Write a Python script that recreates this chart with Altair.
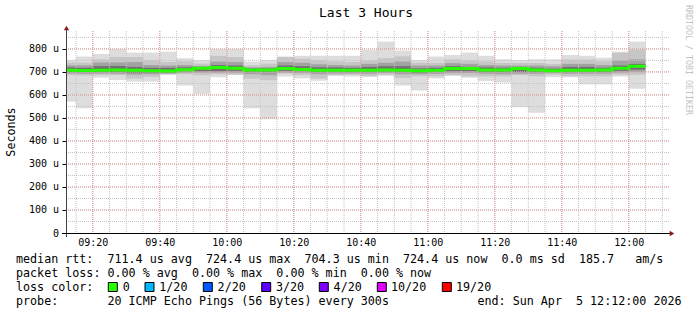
import altair as alt
import pandas as pd

# ---------------- data ----------------
end_times = ["09:15", "09:20", "09:25", "09:30", "09:35", "09:40", "09:45", "09:50", "09:55",
             "10:00", "10:05", "10:10", "10:15", "10:20", "10:25", "10:30", "10:35", "10:40",
             "10:45", "10:50", "10:55", "11:00", "11:05", "11:10", "11:15", "11:20", "11:25",
             "11:30", "11:35", "11:40", "11:45", "11:50", "11:55", "12:00", "12:05"]
median = [707, 706, 707, 709, 707, 705, 704.3, 710, 716, 719, 716, 709, 709, 715, 711, 707, 707, 707,
          707, 709, 707, 705, 707, 715, 715, 709, 709, 715, 709, 705, 707, 707, 709, 716, 724.4]
ping_max = [752, 767, 778, 799, 784, 784, 788, 760, 752, 799, 799, 745, 752, 767, 770, 770, 770, 770,
            796, 832, 793, 752, 767, 774, 784, 770, 755, 752, 755, 755, 774, 770, 762, 788, 832]
ping_h2 = [741, 741, 755, 765, 765, 751, 743, 746, 736, 770, 765, 729, 736, 765, 758, 751, 746, 743,
           750, 760, 768, 740, 740, 755, 749, 746, 739, 739, 739, 735, 754, 754, 746, 783, 797]
ping_h3 = [729, 729, 741, 741, 743, 730, 728, 730, 725, 745, 743, 720, 722, 743, 740, 733, 730, 728,
           735, 740, 745, 728, 728, 738, 735, 730, 728, 728, 728, 725, 735, 735, 730, 750, 755]
ping_h4 = [720, 718, 725, 726, 722, 718, 718, 720, 722, 730, 728, 715, 715, 728, 725, 720, 720, 718,
           722, 725, 725, 715, 718, 725, 722, 720, 718, 720, 718, 714, 722, 722, 718, 728, 735]
ping_l4 = [700, 700, 700, 700, 697, 697, 697, 703, 703, 703, 705, 700, 700, 705, 703, 700, 700, 700,
           700, 702, 700, 697, 700, 703, 703, 700, 700, 700, 700, 700, 700, 700, 700, 705, 710]
ping_l3 = [693, 692, 693, 692, 688, 690, 693, 697, 697, 697, 697, 690, 686, 697, 695, 690, 693, 693,
           692, 695, 690, 690, 692, 695, 695, 692, 690, 692, 692, 695, 692, 692, 692, 697, 700]
ping_l2 = [686, 684, 686, 686, 671, 678, 690, 690, 686, 690, 688, 671, 664, 693, 686, 671, 686, 688,
           681, 688, 674, 681, 681, 686, 681, 681, 681, 686, 681, 688, 681, 681, 681, 688, 688]
ping_min = [571, 542, 675, 665, 658, 658, 687, 641, 604, 677, 687, 542, 494, 680, 672, 662, 683, 680,
            680, 683, 641, 619, 672, 683, 675, 661, 654, 547, 523, 677, 677, 646, 646, 680, 627]

x_labels = ["09:20", "09:40", "10:00", "10:20", "10:40", "11:00", "11:20", "11:40", "12:00"]
y_tick_values = [0, 100, 200, 300, 400, 500, 600, 700, 800]

title_text = "Last 3 Hours"
y_title = "Seconds"
watermark = "RRDTOOL / TOBI OETIKER"
legend_line1 = "median rtt:  711.4 us avg  724.4 us max  704.3 us min  724.4 us now  0.0 ms sd  185.7   am/s"
legend_line2 = "packet loss: 0.00 % avg  0.00 % max  0.00 % min  0.00 % now"
legend_line3 = "loss color:"
loss_labels = ["0", "1/20", "2/20", "3/20", "4/20", "10/20", "19/20"]
loss_colors = ["#26ff00", "#00b8ff", "#0059ff", "#5e00ff", "#7e00ff", "#dd00ff", "#ff0000"]
probe_text = "probe:       20 ICMP Echo Pings (56 Bytes) every 300s"
end_text = "end: Sun Apr  5 12:12:00 2026"
x_start, x_end = "09:12", "12:12"

# ---------------- helpers ----------------
def to_min(s):
    h, m = s.split(":")
    return int(h) * 60 + int(m)

def nb(s):
    return s.replace(" ", "\u00a0")

ends = [to_min(t) for t in end_times]
starts = [e - 5 for e in ends]
df = pd.DataFrame(dict(start=starts, end=ends, mn=ping_min, l2=ping_l2, l3=ping_l3, l4=ping_l4,
                       md=median, h4=ping_h4, h3=ping_h3, h2=ping_h2, mx=ping_max))
line_df = pd.DataFrame(dict(t=starts + [ends[-1]], md=median + [median[-1]]))

X0, X1 = to_min(x_start), to_min(x_end)
W, H = 603, 202
YMAX = 878
MONO = "DejaVu Sans Mono"

xs = alt.Scale(domain=[X0, X1], nice=False, zero=False)
ys = alt.Scale(domain=[0, YMAX], nice=False, zero=True)

x_axis = alt.Axis(values=[to_min(v) for v in x_labels], title=None, grid=False, domain=False,
                  ticks=False, tickSize=0, labelPadding=9.5, labelBaseline="middle",
                  labelFont=MONO, labelFontSize=10, labelColor="#000000",
                  labelExpr="(floor(datum.value/60) < 10 ? '0' : '') + floor(datum.value/60) + ':' + "
                            "(datum.value % 60 < 10 ? '0' : '') + (datum.value % 60)")
y_axis = alt.Axis(values=y_tick_values, title=None, grid=False, domain=False, ticks=True,
                  tickSize=4, tickColor="#000000", labelPadding=3.5, labelFont=MONO,
                  labelFontSize=10, labelColor="#000000",
                  labelExpr="datum.value == 0 ? '0' : datum.value + ' u'")

layers = []

# smoke bands
band_defs = [("mn", "mx", "#dddddd"), ("l2", "h2", "#c6c6c6"), ("l3", "h3", "#a2a2a2"), ("l4", "h4", "#707070")]
for lo, hi, col in band_defs:
    layers.append(alt.Chart(df).mark_rect(color=col, clip=True).encode(
        x=alt.X("start:Q", scale=xs, axis=x_axis), x2="end:Q",
        y=alt.Y(f"{lo}:Q", scale=ys, axis=y_axis), y2=f"{hi}:Q"))

# grid
minor_x = pd.DataFrame(dict(t=list(range(to_min("09:15"), to_min("12:10") + 1, 5))))
major_x = pd.DataFrame(dict(t=[to_min(v) for v in x_labels]))
minor_y = pd.DataFrame(dict(v=list(range(50, 851, 50))))
major_y = pd.DataFrame(dict(v=list(range(100, 801, 100))))
GRID_MINOR = "#c4c4c4"
GRID_MAJOR = "#e39a9a"
layers.append(alt.Chart(minor_y).mark_rule(color=GRID_MINOR, strokeDash=[1, 1], strokeWidth=1).encode(
    y=alt.Y("v:Q", scale=ys, axis=y_axis), x=alt.value(0), x2=alt.value(W)))
layers.append(alt.Chart(minor_x).mark_rule(color=GRID_MINOR, strokeDash=[1, 1], strokeWidth=1).encode(
    x=alt.X("t:Q", scale=xs, axis=x_axis), y=alt.value(0), y2=alt.value(H)))
layers.append(alt.Chart(major_y).mark_rule(color=GRID_MAJOR, strokeDash=[1, 1], strokeWidth=1).encode(
    y=alt.Y("v:Q", scale=ys, axis=y_axis), x=alt.value(0), x2=alt.value(W)))
layers.append(alt.Chart(major_x).mark_rule(color=GRID_MAJOR, strokeDash=[1, 1], strokeWidth=1).encode(
    x=alt.X("t:Q", scale=xs, axis=x_axis), y=alt.value(0), y2=alt.value(H)))

# median line
layers.append(alt.Chart(line_df).mark_line(color="#26ff00", strokeWidth=3, interpolate="step-after",
                                            clip=True, strokeCap="butt").encode(
    x=alt.X("t:Q", scale=xs, axis=x_axis), y=alt.Y("md:Q", scale=ys, axis=y_axis)))

one = alt.Data(values=[{}])

# axis lines and arrows
layers.append(alt.Chart(one).mark_rule(color="#444444", strokeWidth=1).encode(
    x=alt.value(0.5), y=alt.value(-1), y2=alt.value(H + 4)))
layers.append(alt.Chart(one).mark_rule(color="#000000", strokeWidth=1).encode(
    x=alt.value(-4), x2=alt.value(W + 1), y=alt.value(H + 0.5)))
ARROW = "#8a1c1c"
layers.append(alt.Chart(one).mark_point(shape="triangle-up", filled=True, color=ARROW, size=28, opacity=1).encode(
    x=alt.value(0.5), y=alt.value(-3)))
layers.append(alt.Chart(one).mark_point(shape="triangle-right", filled=True, color=ARROW, size=28, opacity=1).encode(
    x=alt.value(W + 3), y=alt.value(H + 0.5)))

OX, OY = 66, 31  # plot origin in page pixels

def text_layer(txt, px, py, size=11.7, align="left", angle=0, color="#000000"):
    return alt.Chart(one).mark_text(text=nb(txt), font=MONO, fontSize=size, align=align,
                                    baseline="middle", angle=angle, color=color).encode(
        x=alt.value(px - OX), y=alt.value(py - OY))

layers.append(text_layer(title_text, 366, 13, size=13, align="center"))
layers.append(text_layer(y_title, 11, 132, align="center", angle=270))
layers.append(text_layer(watermark, 687.5, 5, size=8.3, align="left", angle=90, color="#c2c2c2"))
layers.append(text_layer(legend_line1, 16, 259))
layers.append(text_layer(legend_line2, 16, 273))
layers.append(text_layer(legend_line3, 16, 287))
layers.append(text_layer(probe_text, 16, 301))
layers.append(text_layer(end_text, 477.5, 301))

box_centers = [112.8, 149.5, 207.8, 266.2, 323.8, 381.8, 446.8]
label_x = [122.7, 159.3, 217.6, 276.0, 333.6, 391.0, 456.0]
for lab, col, bc, lx in zip(loss_labels, loss_colors, box_centers, label_x):
    layers.append(alt.Chart(one).mark_rect(fill=col, stroke="#000000", strokeWidth=1).encode(
        x=alt.value(bc - 4.5 - OX), x2=alt.value(bc + 4.5 - OX),
        y=alt.value(282.5 - OY), y2=alt.value(291.5 - OY)))
    layers.append(text_layer(lab, lx, 287))

chart = alt.layer(*layers).properties(
    width=W, height=H,
    autosize=alt.AutoSizeParams(type="none"),
    padding={"left": OX, "top": OY, "right": 697 - OX - W, "bottom": 315 - OY - H},
    background="#ffffff",
).configure_view(stroke=None)

chart.save("out.html", embed_options={"renderer": "svg", "actions": False})
